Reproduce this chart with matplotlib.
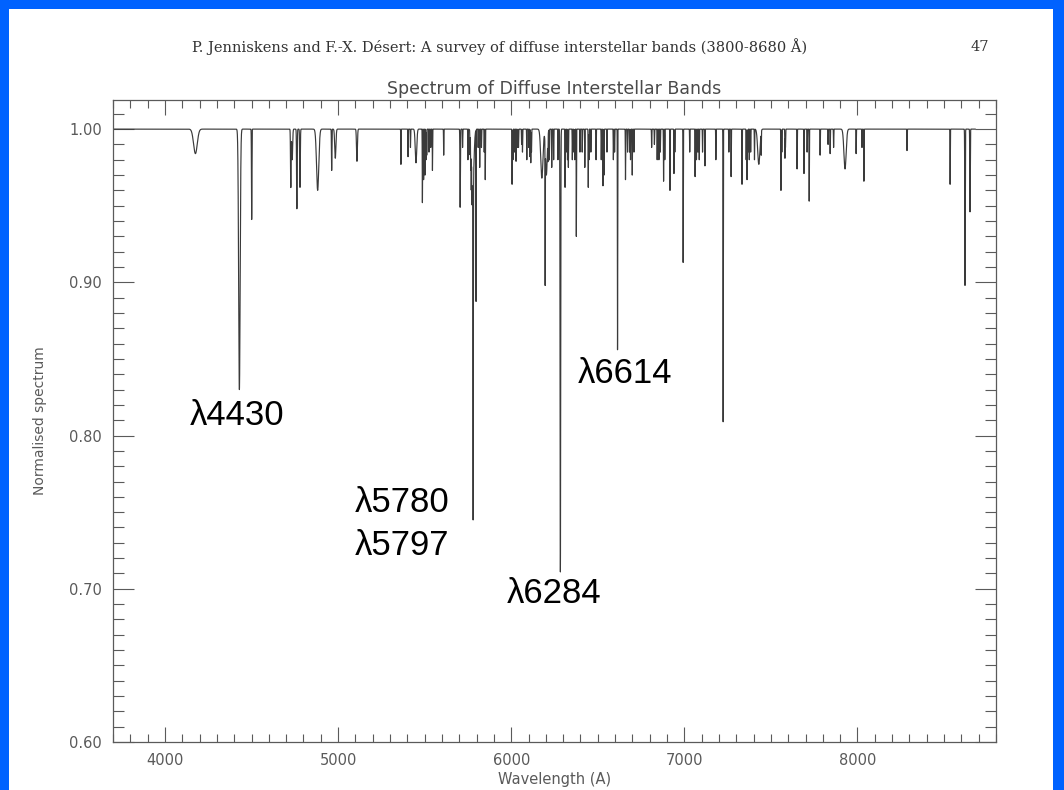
import matplotlib.pyplot as plt
import numpy as np
from matplotlib.patches import Rectangle
from matplotlib.ticker import MultipleLocator

# Diffuse interstellar band list: centre (A), central depth, FWHM (A)
band_centres = [4176, 4430, 4501, 4727, 4735, 4762, 4780, 4882, 4963, 4984,
                5109, 5363, 5404, 5418, 5450, 5487, 5494, 5502, 5508, 5512,
                5525, 5535, 5545, 5610, 5705, 5719, 5750, 5762, 5766, 5769,
                5773, 5778, 5780, 5797, 5809, 5818, 5828, 5844, 5850, 6005,
                6010, 6020, 6028, 6037, 6042, 6060, 6065, 6090, 6102, 6108,
                6113, 6117, 6177, 6196, 6203, 6212, 6220, 6234, 6245, 6270,
                6284, 6311, 6317, 6325, 6330, 6353, 6362, 6367, 6376, 6397,
                6410, 6425, 6445, 6449, 6460, 6490, 6520, 6530, 6536, 6553,
                6590, 6597, 6614, 6660, 6672, 6684, 6689, 6699, 6709, 6811,
                6827, 6843, 6853, 6861, 6880, 6887, 6917, 6940, 6945, 6993,
                7031, 7062, 7070, 7078, 7086, 7105, 7119, 7182, 7224, 7257,
                7270, 7333, 7357, 7362, 7367, 7375, 7383, 7405, 7430, 7444,
                7558, 7563, 7581, 7584, 7651, 7691, 7709, 7721, 7784, 7830,
                7842, 7862, 7928, 7992, 8026, 8037, 8286, 8535, 8621, 8650]
band_depths = [0.016, 0.170, 0.059, 0.038, 0.020, 0.052, 0.038, 0.040, 0.027, 0.019,
               0.021, 0.023, 0.018, 0.012, 0.022, 0.048, 0.033, 0.030, 0.020, 0.017,
               0.015, 0.012, 0.027, 0.017, 0.051, 0.012, 0.020, 0.015, 0.020, 0.025,
               0.020, 0.040, 0.217, 0.112, 0.012, 0.025, 0.012, 0.015, 0.033, 0.036,
               0.020, 0.015, 0.021, 0.012, 0.012, 0.010, 0.015, 0.020, 0.012, 0.018,
               0.022, 0.015, 0.032, 0.090, 0.030, 0.015, 0.020, 0.025, 0.020, 0.020,
               0.289, 0.038, 0.015, 0.020, 0.025, 0.020, 0.015, 0.020, 0.070, 0.015,
               0.015, 0.025, 0.038, 0.020, 0.015, 0.020, 0.020, 0.037, 0.030, 0.015,
               0.020, 0.015, 0.144, 0.033, 0.015, 0.015, 0.020, 0.030, 0.015, 0.012,
               0.010, 0.020, 0.020, 0.015, 0.034, 0.020, 0.040, 0.029, 0.015, 0.087,
               0.015, 0.031, 0.020, 0.015, 0.020, 0.015, 0.024, 0.020, 0.191, 0.015,
               0.031, 0.036, 0.020, 0.033, 0.015, 0.020, 0.015, 0.020, 0.023, 0.015,
               0.040, 0.015, 0.019, 0.012, 0.026, 0.029, 0.015, 0.047, 0.017, 0.010,
               0.016, 0.012, 0.026, 0.016, 0.012, 0.034, 0.014, 0.036, 0.102, 0.054]
band_fwhm = [25, 10, 3, 4, 6, 4, 4, 15, 3, 8,
             6, 2, 2, 2, 10, 2, 2, 2, 2, 2,
             2, 2, 2, 2, 3, 2, 2, 2, 2, 2,
             2, 15, 2.5, 1.2, 2, 2, 2, 2, 2, 2,
             2, 2, 2, 2, 2, 2, 2, 2, 2, 2,
             2, 2, 15, 1.5, 12, 2, 2, 2, 2, 2,
             4, 2, 2, 2, 2, 2, 2, 2, 2, 2,
             2, 2, 2, 2, 2, 2, 2, 2, 2, 2,
             2, 2, 2, 2, 2, 2, 2, 2, 2, 2,
             2, 2, 2, 2, 2, 2, 2, 2, 2, 2,
             2, 2, 2, 2, 2, 2, 2, 2, 2, 2,
             2, 2, 2, 2, 2, 2, 2, 2, 15, 2,
             2, 2, 2, 2, 2, 2, 2, 2, 2, 2,
             2, 2, 15, 2, 2, 2, 2, 2, 3, 3]

# (label, x, y) for the marked bands
labels = [("\u03bb4430", 4145, 0.8068),
          ("\u03bb5780", 5098, 0.7501),
          ("\u03bb5797", 5098, 0.7220),
          ("\u03bb6284", 5976, 0.6907),
          ("\u03bb6614", 6386, 0.8342)]

wave = np.arange(3700, 8680, 0.25)
flux = np.ones_like(wave)
for c, d, w in zip(band_centres, band_depths, band_fwhm):
    sig = w / 2.3548
    flux -= d * np.exp(-0.5 * ((wave - c) / sig) ** 2)

fig = plt.figure(figsize=(10.64, 7.9), dpi=100, facecolor='#0062FF')
# white page on the blue slide
fig.patches.append(Rectangle((9 / 1064, 0), (1053 - 9) / 1064, 1 - 9 / 790,
                             transform=fig.transFigure, facecolor='white',
                             edgecolor='none', zorder=-5))

ax = fig.add_axes([113 / 1064, 1 - 742 / 790, (996 - 113) / 1064, (742 - 100) / 790])
ax.set_zorder(2)
ax.plot(wave, flux, color='#3a3a3a', lw=0.85)
ax.set_xlim(3700, 8800)
ax.set_ylim(0.60, 1.019)

grey = '#5a5a5a'
ax.xaxis.set_major_locator(MultipleLocator(1000))
ax.xaxis.set_minor_locator(MultipleLocator(100))
ax.yaxis.set_major_locator(MultipleLocator(0.1))
ax.yaxis.set_minor_locator(MultipleLocator(0.01))
ax.yaxis.set_major_formatter(plt.FormatStrFormatter('%.2f'))
ax.tick_params(which='both', direction='in', top=True, right=True, colors=grey,
               labelsize=10.5, width=0.8)
ax.tick_params(axis='x', which='major', length=11, pad=8)
ax.tick_params(axis='x', which='minor', length=6)
ax.tick_params(axis='y', which='major', length=15, pad=8)
ax.tick_params(axis='y', which='minor', length=8)
for s in ax.spines.values():
    s.set_color(grey)
    s.set_linewidth(0.9)

ax.set_title("Spectrum of Diffuse Interstellar Bands", fontsize=12.5, color='#4a4a4a', pad=4)
ax.set_xlabel("Wavelength (A)", fontsize=10.5, color=grey, labelpad=3)
ax.set_ylabel("Normalised spectrum", fontsize=10, color=grey, labelpad=16)

for txt, lx, ly in labels:
    ax.text(lx, ly, txt, fontsize=25, family='Liberation Sans', color='black', va='baseline')

fig.text(500 / 1064, 1 - 47 / 790, "P. Jenniskens and F.-X. D\u00e9sert: A survey of diffuse interstellar bands (3800-8680 \u00c5)",
         ha='center', va='center', family='DejaVu Serif', fontsize=10.5, color='#333333')
fig.text(980 / 1064, 1 - 47 / 790, "47", ha='center', va='center',
         family='DejaVu Serif', fontsize=10.5, color='#333333')

fig.savefig('out.png', dpi=100, facecolor=fig.get_facecolor())
